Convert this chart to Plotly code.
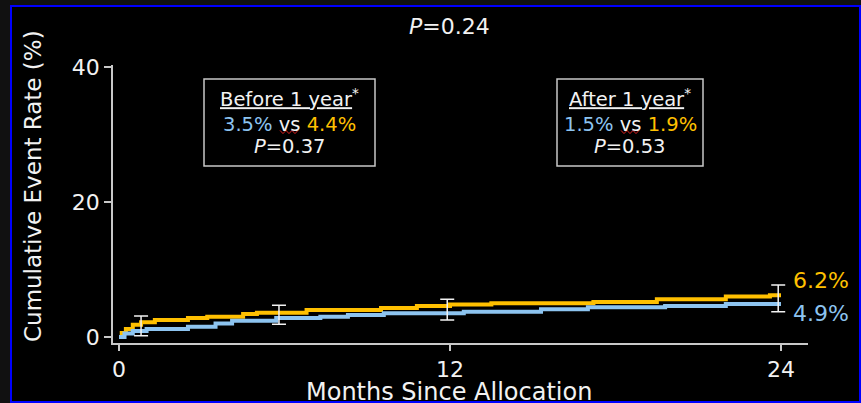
import plotly.graph_objects as go

# Kaplan-Meier cumulative event rates (%), step curves by month since allocation
months_yellow = [0, 0.1, 0.25, 0.5, 0.8, 1.3, 2.5, 3.2, 4.5, 5.0, 6.8, 9.5, 10.8, 12.0, 13.5, 17.2, 19.5, 22.0, 23.6, 24.0]
rate_yellow = [0, 0.6, 1.2, 1.8, 2.2, 2.5, 2.8, 3.0, 3.4, 3.6, 4.0, 4.3, 4.6, 4.8, 5.0, 5.2, 5.6, 6.0, 6.2, 6.2]

months_blue = [0, 0.2, 0.5, 1.0, 2.5, 3.5, 4.1, 5.7, 7.3, 8.3, 9.6, 12.5, 15.3, 17.0, 19.8, 22.0, 24.0]
rate_blue = [0, 0.5, 0.9, 1.2, 1.5, 2.0, 2.4, 2.8, 3.0, 3.25, 3.5, 3.75, 4.1, 4.4, 4.6, 4.9, 4.9]

# confidence interval bars: upper limit of the yellow arm, lower limit of the blue arm
ci_months = [0.8, 5.8, 11.9, 23.9]
ci_upper = [3.1, 4.7, 5.6, 7.7]
ci_lower = [0.2, 1.9, 2.5, 3.75]
ci_mid = [2.2, 3.6, 4.8, 6.2]

x_ticks = [0, 12, 24]
y_ticks = [0, 20, 40]

end_yellow = 6.2
end_blue = 4.9
overall_p = "0.24"
box_titles = ["Before 1 year", "After 1 year"]
box_blue = ["3.5%", "1.5%"]
box_yellow = ["4.4%", "1.9%"]
box_p = ["0.37", "0.53"]

YELLOW = "#FFC000"
BLUE = "#8DC4F0"
WHITE = "#F2F2F2"
GREY = "#C8C8C8"
FONT = "DejaVu Sans"

W, H = 861, 403
L, R, T, B = 113, 53, 65, 60
PW, PH = W - L - R, H - T - B


def px(x):
    return (x - L) / PW


def py(y):
    return (H - B - y) / PH


fig = go.Figure()

fig.add_trace(go.Scatter(x=months_yellow, y=rate_yellow, mode="lines",
                         line=dict(color=YELLOW, width=4, shape="hv"), hoverinfo="skip"))
fig.add_trace(go.Scatter(x=months_blue, y=rate_blue, mode="lines",
                         line=dict(color=BLUE, width=4, shape="hv"), hoverinfo="skip"))
fig.add_trace(go.Scatter(
    x=ci_months, y=ci_mid, mode="markers", marker=dict(size=0.1, color="rgba(0,0,0,0)"),
    error_y=dict(type="data", symmetric=False,
                 array=[u - m for u, m in zip(ci_upper, ci_mid)],
                 arrayminus=[m - lo for m, lo in zip(ci_mid, ci_lower)],
                 color=WHITE, thickness=1.5, width=7),
    hoverinfo="skip"))

shapes = [
    # blue frame on black panel
    dict(type="rect", xref="paper", yref="paper", layer="below",
         x0=px(11), x1=px(860), y0=py(402), y1=py(6),
         fillcolor="black", line=dict(color="#0000FF", width=2)),
]
# summary boxes
for x0, x1 in [(204, 375), (557, 703)]:
    shapes.append(dict(type="rect", xref="paper", yref="paper", layer="below",
                       x0=px(x0), x1=px(x1), y0=py(166), y1=py(79),
                       line=dict(color=GREY, width=1.5), fillcolor="black"))


def squiggle(x_start, x_end, y_mid, amp=1.6, step=3):
    pts = []
    x, up = x_start, True
    while x <= x_end:
        pts.append((px(x), py(y_mid - amp if up else y_mid + amp)))
        x += step
        up = not up
    return "M " + " L ".join(f"{a:.5f},{b:.5f}" for a, b in pts)


# red wavy underline under "vs"
for xs, xe in [(280, 300), (621, 641)]:
    shapes.append(dict(type="path", xref="paper", yref="paper", path=squiggle(xs, xe, 132),
                       line=dict(color="#E02020", width=1)))

annotations = [
    dict(text=f"<i>P</i>={overall_p}", x=px(449), y=py(27), xref="paper", yref="paper",
         xanchor="center", yanchor="middle",
         showarrow=False, font=dict(size=22, color=WHITE, family=FONT)),
    dict(text=f"{end_yellow}%", x=24.35, y=end_yellow + 2.1, xref="x", yref="y",
         xanchor="left", yanchor="middle",
         showarrow=False, font=dict(size=22, color=YELLOW, family=FONT)),
    dict(text=f"{end_blue}%", x=24.35, y=end_blue - 1.35, xref="x", yref="y",
         xanchor="left", yanchor="middle",
         showarrow=False, font=dict(size=22, color=BLUE, family=FONT)),
    dict(text="Months Since Allocation", x=px(449), y=py(392), xref="paper", yref="paper",
         xanchor="center", yanchor="middle",
         showarrow=False, font=dict(size=24, color=WHITE, family=FONT)),
    dict(text="Cumulative Event Rate (%)", x=px(33), y=py(186), xref="paper", yref="paper",
         xanchor="center", yanchor="middle",
         textangle=-90, showarrow=False, font=dict(size=23, color=WHITE, family=FONT)),
]
for cx, title, b, yv, p in zip([289.5, 630], box_titles, box_blue, box_yellow, box_p):
    annotations.append(dict(
        text=f"<span style='text-decoration:underline'>{title}</span><sup>*</sup>",
        x=px(cx), y=py(98), xref="paper", yref="paper", showarrow=False,
        xanchor="center", yanchor="middle",
        font=dict(size=19.5, color=WHITE, family=FONT)))
    annotations.append(dict(
        text=f"<span style='color:{BLUE}'>{b}</span> vs <span style='color:{YELLOW}'>{yv}</span>",
        x=px(cx), y=py(124.5), xref="paper", yref="paper", showarrow=False,
        xanchor="center", yanchor="middle",
        font=dict(size=19.5, color=WHITE, family=FONT)))
    annotations.append(dict(
        text=f"<i>P</i>={p}", x=px(cx), y=py(146), xref="paper", yref="paper", showarrow=False,
        xanchor="center", yanchor="middle",
        font=dict(size=19.5, color=WHITE, family=FONT)))

fig.update_layout(
    width=W, height=H, margin=dict(l=L, r=R, t=T, b=B),
    paper_bgcolor="#111111", plot_bgcolor="rgba(0,0,0,0)",
    showlegend=False, shapes=shapes, annotations=annotations,
    font=dict(family=FONT, color=WHITE),
    xaxis=dict(range=[-0.2175, 24.98], tickvals=x_ticks, ticks="outside", ticklen=6,
               tickcolor=GREY, tickwidth=1.5, showline=True, linecolor=GREY, linewidth=1.5,
               showgrid=False, zeroline=False, tickfont=dict(size=22, color=WHITE, family=FONT)),
    yaxis=dict(range=[-0.89, 40.3], tickvals=y_ticks, ticks="outside", ticklen=7,
               tickcolor=GREY, tickwidth=1.5, showline=True, linecolor=GREY, linewidth=1.5,
               showgrid=False, zeroline=False, tickfont=dict(size=22, color=WHITE, family=FONT)),
)

fig.write_html("out.html")
